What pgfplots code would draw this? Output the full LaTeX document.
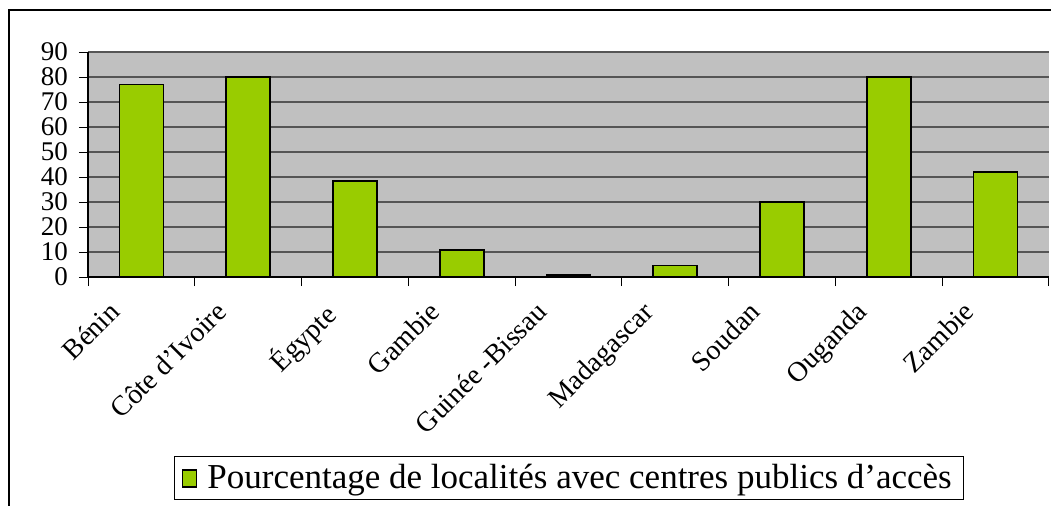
\documentclass[border=0pt]{standalone}
\usepackage{fontspec}
\setmainfont{Liberation Serif}
\newfontfamily\legfont{Liberation Serif}
\usepackage{pgfplots}
\pgfplotsset{compat=1.18}
\definecolor{barg}{HTML}{99CC00}
\definecolor{plotbg}{HTML}{C0C0C0}
\definecolor{gridc}{HTML}{555555}
\begin{document}
\begin{tikzpicture}
\path[use as bounding box, clip] (0pt,0pt) rectangle (525.5pt,-252.5pt);
\draw[line width=0.6pt] (4.5pt,-270pt) -- (4.5pt,-5pt) -- (540pt,-5pt);
\begin{axis}[
  at={(44pt,-138.5pt)}, anchor=south west,
  scale only axis, width=480.5pt, height=112.5pt,
  xmin=-0.5, xmax=8.5, ymin=0, ymax=90,
  ytick={0,10,...,90},
  xtick={0,...,8},
  xticklabels={Bénin, Côte d’Ivoire, Égypte, Gambie, Guinée -Bissau, Madagascar, Soudan, Ouganda, Zambie},
  minor xtick={-0.5,0.5,...,8.5},
  major x tick style={draw=none},
  minor tick length=4.5pt, major tick length=4.5pt,
  tick align=outside, xtick pos=bottom, ytick pos=left,
  tick style={black, line width=0.5pt},
  axis lines*=left,
  axis line style={black, line width=0.6pt},
  axis background/.style={fill=plotbg},
  ymajorgrids, grid style={gridc, line width=0.65pt},
  /pgf/number format/assume math mode=true,
  yticklabel style={font=\rmfamily\fontsize{13.5}{15}\selectfont, xshift=-2pt},
  xticklabel style={font=\rmfamily\fontsize{14}{16}\selectfont, xshift=-17pt, yshift=-2pt, rotate=45, anchor=north east},
  legend style={at={(axis description cs:0.5005,-0.893)}, anchor=center, draw=black, line width=0.6pt,
    font=\legfont\fontsize{17.5}{20}\selectfont, inner xsep=4pt, inner ysep=2pt},
  legend cell align=left,
  legend image code/.code={\draw[fill=barg,draw=black,line width=0.6pt] (1pt,-4.5pt) rectangle (8pt,4pt);},
]
\addplot[ybar, bar width=22pt, fill=barg, draw=black, line width=0.8pt] coordinates {
(0,77) (1,80) (2,38.5) (3,10.8) (4,0.8) (5,4.6) (6,30) (7,80) (8,42)};
\addlegendentry{\legfont\hspace{3pt}Pourcentage de localités avec centres publics d’accès}
\end{axis}
\end{tikzpicture}
\end{document}
